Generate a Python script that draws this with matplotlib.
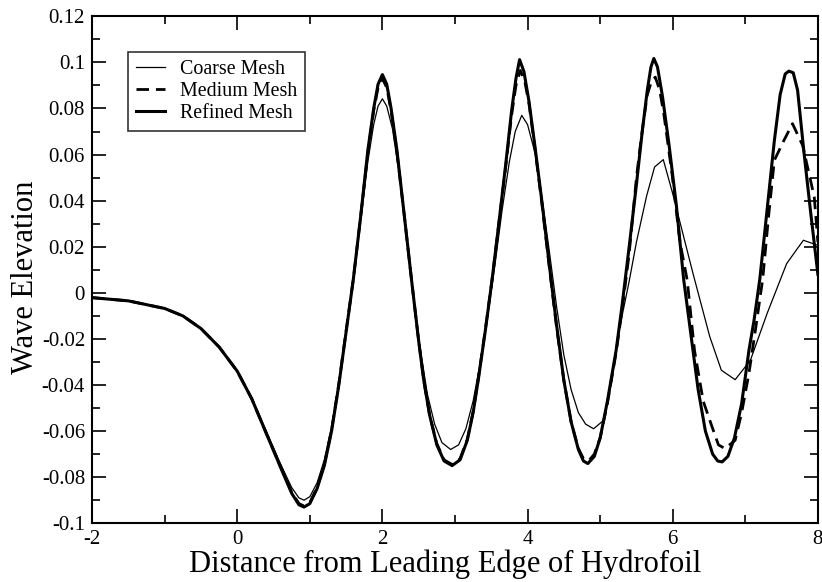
import matplotlib
matplotlib.use("Agg")
import matplotlib.pyplot as plt
from matplotlib.ticker import MultipleLocator, FuncFormatter

# wave elevation, x = distance from leading edge
coarse_x = [-2.0, -1.5, -1.0, -0.75, -0.5, -0.25, 0.0, 0.2, 0.4, 0.6, 0.75, 0.85,
            0.92, 1.0, 1.1, 1.2, 1.3, 1.4, 1.5, 1.6, 1.7, 1.8, 1.88, 1.94, 2.0,
            2.06, 2.14, 2.22, 2.32, 2.42, 2.52, 2.62, 2.72, 2.82, 2.94, 3.05,
            3.15, 3.25, 3.35, 3.45, 3.55, 3.65, 3.75, 3.83, 3.92, 4.0, 4.1, 4.2,
            4.3, 4.4, 4.5, 4.6, 4.7, 4.8, 4.91, 5.05, 5.15, 5.27, 5.4, 5.5,
            5.64, 5.75, 5.87, 6.0, 6.28, 6.51, 6.67, 6.86, 7.07, 7.3, 7.57,
            7.8, 8.0]
coarse_y = [-0.0021, -0.0035, -0.0068, -0.0100, -0.0155, -0.0235, -0.0340,
            -0.0455, -0.0600, -0.0745, -0.0845, -0.0890, -0.0900, -0.0885,
            -0.0825, -0.0725, -0.0580, -0.0390, -0.0170, 0.0050, 0.0310,
            0.0570, 0.0730, 0.0810, 0.0842, 0.0810, 0.0710, 0.0540, 0.0290,
            0.0010, -0.0240, -0.0440, -0.0570, -0.0650, -0.0680, -0.0660,
            -0.0590, -0.0470, -0.0300, -0.0100, 0.0120, 0.0360, 0.0570,
            0.0700, 0.0770, 0.0730, 0.0610, 0.0410, 0.0180, -0.0060, -0.0270,
            -0.0420, -0.0520, -0.0570, -0.0590, -0.0553, -0.0400, -0.0150,
            0.0050, 0.0220, 0.0420, 0.0546, 0.0578, 0.0430, 0.0083, -0.0190,
            -0.0336, -0.0377, -0.0293, -0.0090, 0.0127, 0.0228, 0.0206]

medium_x = [-2.0, -1.5, -1.0, -0.75, -0.5, -0.25, 0.0, 0.2, 0.4, 0.6, 0.75, 0.85,
            0.92, 1.0, 1.1, 1.2, 1.3, 1.4, 1.5, 1.6, 1.7, 1.8, 1.88, 1.94, 2.0,
            2.06, 2.12, 2.2, 2.3, 2.4, 2.5, 2.57, 2.65, 2.75, 2.85, 2.96, 3.07,
            3.17, 3.25, 3.32, 3.42, 3.51, 3.6, 3.7, 3.78, 3.84, 3.9, 3.96, 4.02,
            4.1, 4.2, 4.3, 4.4, 4.5, 4.6, 4.7, 4.77, 4.84, 4.92, 5.0, 5.1, 5.22,
            5.3, 5.4, 5.5, 5.55, 5.6, 5.65, 5.71, 5.76, 5.82, 5.88, 5.99, 6.1,
            6.2, 6.3, 6.42, 6.54, 6.63, 6.72, 6.86, 6.95, 7.05, 7.14, 7.24,
            7.32, 7.4, 7.53, 7.65, 7.79, 7.95, 8.0]
medium_y = [-0.0021, -0.0035, -0.0068, -0.0100, -0.0155, -0.0235, -0.0340,
            -0.0460, -0.0610, -0.0755, -0.0865, -0.0915, -0.0925, -0.0910,
            -0.0845, -0.0745, -0.0595, -0.0395, -0.0165, 0.0060, 0.0330,
            0.0610, 0.0790, 0.0890, 0.0930, 0.0890, 0.0790, 0.0610, 0.0340,
            0.0060, -0.0210, -0.0380, -0.0530, -0.0655, -0.0725, -0.0745,
            -0.0720, -0.0635, -0.0515, -0.0375, -0.0155, 0.0055, 0.0290,
            0.0550, 0.0770, 0.0900, 0.0965, 0.0920, 0.0820, 0.0630, 0.0380,
            0.0110, -0.0150, -0.0380, -0.0560, -0.0675, -0.0720, -0.0730,
            -0.0700, -0.0630, -0.0480, -0.0260, -0.0080, 0.0170, 0.0500,
            0.0630, 0.0750, 0.0860, 0.0920, 0.0936, 0.0880, 0.0770, 0.0517,
            0.0220, 0.0054, -0.0250, -0.0470, -0.0580, -0.0660, -0.0676,
            -0.0640, -0.0520, -0.0350, -0.0160, 0.0060, 0.0330, 0.0575,
            0.0660, 0.0734, 0.0640, 0.0416, 0.0220]

refined_x = [-2.0, -1.5, -1.0, -0.75, -0.5, -0.25, 0.0, 0.2, 0.4, 0.6, 0.75,
             0.85, 0.92, 1.0, 1.1, 1.2, 1.3, 1.4, 1.5, 1.6, 1.7, 1.8, 1.88,
             1.94, 2.0, 2.06, 2.12, 2.2, 2.3, 2.4, 2.5, 2.57, 2.65, 2.75, 2.85,
             2.96, 3.07, 3.17, 3.25, 3.32, 3.42, 3.51, 3.6, 3.7, 3.78, 3.84,
             3.89, 3.95, 4.02, 4.1, 4.2, 4.3, 4.4, 4.5, 4.6, 4.7, 4.77, 4.83,
             4.92, 5.0, 5.1, 5.22, 5.3, 5.4, 5.5, 5.58, 5.65, 5.7, 5.74, 5.79,
             5.86, 5.95, 6.05, 6.15, 6.25, 6.35, 6.45, 6.55, 6.62, 6.68, 6.76,
             6.85, 6.95, 7.05, 7.12, 7.2, 7.3, 7.4, 7.48, 7.55, 7.6, 7.66, 7.72,
             7.81, 7.9, 8.0]
refined_y = [-0.0021, -0.0035, -0.0068, -0.0100, -0.0155, -0.0235, -0.0340,
             -0.0460, -0.0610, -0.0760, -0.0870, -0.0920, -0.0930, -0.0915,
             -0.0850, -0.0750, -0.0600, -0.0400, -0.0170, 0.0060, 0.0330,
             0.0620, 0.0800, 0.0905, 0.0947, 0.0905, 0.0800, 0.0620, 0.0340,
             0.0060, -0.0210, -0.0380, -0.0530, -0.0660, -0.0730, -0.0750,
             -0.0725, -0.0640, -0.0520, -0.0380, -0.0160, 0.0054, 0.0290,
             0.0560, 0.0790, 0.0930, 0.1012, 0.0960, 0.0830, 0.0640, 0.0390,
             0.0120, -0.0140, -0.0380, -0.0560, -0.0680, -0.0730, -0.0741,
             -0.0710, -0.0630, -0.0470, -0.0250, -0.0060, 0.0200, 0.0470,
             0.0700, 0.0880, 0.0980, 0.1017, 0.0980, 0.0850, 0.0640, 0.0380,
             0.0060, -0.0180, -0.0420, -0.0600, -0.0700, -0.0730, -0.0734,
             -0.0710, -0.0630, -0.0480, -0.0250, -0.0120, 0.0060, 0.0360,
             0.0660, 0.0860, 0.0950, 0.0962, 0.0955, 0.0880, 0.0604, 0.0350,
             0.0080]

plt.rcParams["font.family"] = ["Liberation Serif", "DejaVu Serif"]

fig = plt.figure(figsize=(8.22, 5.82), dpi=100)
ax = fig.add_axes([0.112, 0.101, 0.883, 0.871])

ax.plot(coarse_x, coarse_y, color="black", lw=0.9, label="Coarse Mesh")
ax.plot(medium_x, medium_y, color="black", lw=2.0, ls=(0, (4.5, 2.5)),
        label="Medium Mesh")
ax.plot(refined_x, refined_y, color="black", lw=2.2, label="Refined Mesh")

ax.set_xlim(-2, 8)
ax.set_ylim(-0.1, 0.12)
ax.xaxis.set_major_locator(MultipleLocator(2))
ax.xaxis.set_minor_locator(MultipleLocator(1))
ax.yaxis.set_major_locator(MultipleLocator(0.02))
ax.yaxis.set_minor_locator(MultipleLocator(0.01))


def ylab(v, pos):
    if abs(v) < 1e-9:
        return "0"
    return f"{v:.2f}".rstrip("0")


ax.yaxis.set_major_formatter(FuncFormatter(ylab))
ax.xaxis.set_major_formatter(FuncFormatter(lambda v, p: f"{v:g}"))
ax.tick_params(which="both", direction="in", top=True, right=True,
               labelsize=15, width=1.2)
ax.tick_params(which="major", length=10, pad=5)
ax.tick_params(which="minor", length=6)
for s in ax.spines.values():
    s.set_linewidth(1.5)

ax.set_xlabel("Distance from Leading Edge of Hydrofoil", fontsize=22)
ax.set_ylabel("Wave Elevation", fontsize=22)
ax.xaxis.set_label_coords(0.486, -0.052)
ax.yaxis.set_label_coords(-0.072, 0.485)

leg = ax.legend(loc="upper left", bbox_to_anchor=(0.0496, 0.929),
                borderaxespad=0, fontsize=14.4, frameon=True, fancybox=False,
                edgecolor="black", handlelength=1.45, borderpad=0.4,
                labelspacing=0.15, handletextpad=0.75)
leg.get_frame().set_linewidth(1.2)

fig.savefig("out.png", dpi=100)
